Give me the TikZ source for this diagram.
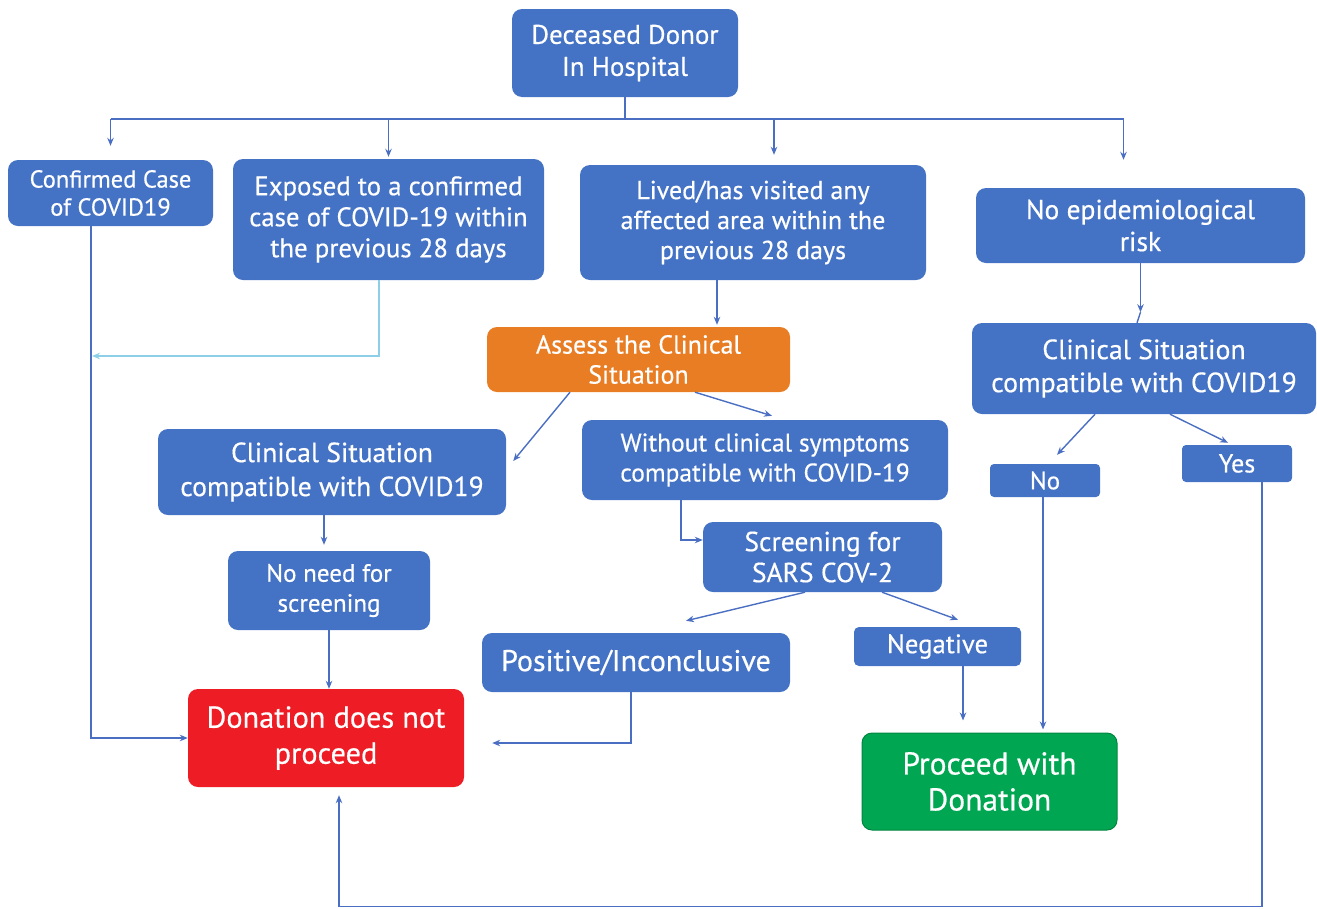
\documentclass[tikz,border=0pt]{standalone}
\usepackage{fontspec}
\setmainfont{PT Sans}[FakeBold=0.5]
\usetikzlibrary{arrows.meta,calc}
\definecolor{bxblue}{HTML}{4472C4}
\definecolor{bxorange}{HTML}{E87D24}
\definecolor{bxred}{HTML}{EE1C25}
\definecolor{bxgreen}{HTML}{00A651}
\definecolor{lnblue}{HTML}{4A6FC2}
\definecolor{lnlight}{HTML}{8ECFE8}
\tikzset{
  box/.style={draw=none, fill=bxblue, text=white, rounded corners=10pt, align=center, inner sep=0pt},
  arr/.style={draw=lnblue, line width=1.4pt, -{Stealth[length=8pt,width=6.5pt]}},
  ln/.style={draw=lnblue, line width=1.4pt},
}
\newcommand{\fs}[2]{\fontsize{#1}{#2}\selectfont}
\begin{document}
\begin{tikzpicture}[x=1pt,y=-1pt]
\useasboundingbox (0,0) rectangle (1317,908);
% nodes
\node[box, minimum width=226, minimum height=88, font=\fs{27}{32}] (dec) at (625,53) {Deceased Donor\\In Hospital};
\node[box, minimum width=205, minimum height=66, font=\fs{24.5}{28}] (conf) at (110.5,193) {Confirmed Case\\of COVID19};
\node[box, minimum width=311, minimum height=121, font=\fs{26.8}{31}] (exp) at (388.5,219.5) {Exposed to a confirmed\\case of COVID-19 within\\the previous 28 days};
\node[box, minimum width=346, minimum height=115, font=\fs{26}{30}] (lived) at (753,222.5) {Lived/has visited any\\affected area within the\\previous 28 days};
\node[box, minimum width=329, minimum height=75, font=\fs{27.5}{32}] (noepi) at (1140.5,225.5) {No epidemiological\\risk};
\node[box, fill=bxorange, minimum width=303, minimum height=65, font=\fs{26}{30}] (assess) at (638.5,359.5) {Assess the Clinical\\Situation};
\node[box, minimum width=344, minimum height=91, font=\fs{27.8}{33}] (rcl) at (1144,368.5) {Clinical Situation\\compatible with COVID19};
\node[box, minimum width=348, minimum height=86, font=\fs{27.6}{34}] (cl) at (332,472) {Clinical Situation\\compatible with COVID19};
\node[box, minimum width=366, minimum height=80, font=\fs{25.5}{30}] (wo) at (765,460) {Without clinical symptoms\\compatible with COVID-19};
\node[box, rounded corners=4pt, minimum width=110, minimum height=33, font=\fs{25}{26}] (no) at (1045,480.5) {No};
\node[box, rounded corners=4pt, minimum width=110, minimum height=37, font=\fs{26}{26}] (yes) at (1237,463.5) {Yes};
\node[box, minimum width=202, minimum height=79, font=\fs{25}{30}] (noneed) at (329,590.5) {No need for\\screening};
\node[box, minimum width=239, minimum height=70, font=\fs{27.5}{31}] (scr) at (822.5,557) {Screening for\\SARS COV-2};
\node[box, minimum width=308, minimum height=59, font=\fs{30}{32}] (pos) at (636,662.5) {Positive/Inconclusive};
\node[box, rounded corners=5pt, minimum width=167, minimum height=39, font=\fs{26.7}{28}] (neg) at (937.5,646.5) {Negative};
\node[box, fill=bxred, minimum width=276, minimum height=98, font=\fs{30.3}{36}] (don) at (326,738) {Donation does not\\proceed};
\node[box, fill=bxgreen, draw=bxgreen!80!black, line width=1pt, minimum width=255, minimum height=97, font=\fs{31.5}{36}] (proc) at (989.5,781.5) {Proceed with\\Donation};
% bus from deceased donor
\coordinate (bus) at (625,119);
\draw[ln] (dec.south) -- (bus);
\draw[ln] (conf.north |- bus) -- ([xshift=-17]noepi.north |- bus);
\draw[arr, shorten >=14pt] (conf.north |- bus) -- (conf.north);
\draw[arr, shorten >=2pt] (exp.north |- bus) -- (exp.north);
\draw[arr, shorten >=10pt] ([xshift=21]lived.north |- bus) -- ([xshift=21]lived.north);
\draw[arr, shorten >=28pt] ([xshift=-17]noepi.north |- bus) -- ([xshift=-17]noepi.north);
% left column
\draw[arr] ([xshift=-19.5]conf.south) |- (don.west);
\coordinate (expend) at (92,356);
\draw[arr, draw=lnlight] ([xshift=-9.5]exp.south) |- (expend);
% middle
\draw[arr, shorten >=2pt] ([xshift=-36]lived.south) -- ([xshift=-36]lived.south |- assess.north);
\draw[arr] ([xshift=-68.5]assess.south) -- ([xshift=7,yshift=11]cl.east);
\draw[arr] ([xshift=56.5]assess.south) -- ([xshift=7,yshift=4]wo.north);
\draw[arr] ([xshift=-84]wo.south) |- ([yshift=17]scr.west);
\draw[arr] ([xshift=-17.5]scr.south) -- ([xshift=50,yshift=12]pos.north);
\draw[arr] ([xshift=59.5]scr.south) -- ([xshift=20.5,yshift=7]neg.north);
\draw[arr, shorten >=12pt] ([xshift=25.5]neg.south) -- ([xshift=25.5]neg.south |- proc.north);
\draw[arr] ([xshift=-5]pos.south) |- ([xshift=28,yshift=-5]don.east);
\draw[arr, shorten >=6pt] ([xshift=-8]cl.south) -- ([xshift=-8]cl.south |- noneed.north);
\draw[arr] (noneed.south) -- (noneed.south |- don.north);
% right column
\path (noepi.south) ++(0,49) coordinate (k);
\draw[arr] (noepi.south) -- (k);
\draw[ln] (k) -- ([xshift=-7]rcl.north);
\draw[arr] ([xshift=-49]rcl.south) -- ([xshift=12,yshift=9]no.north);
\draw[arr] ([xshift=26]rcl.south) -- ([xshift=-9,yshift=2]yes.north);
\draw[arr, shorten >=3pt] ([xshift=-2]no.south) -- ([xshift=-2]no.south |- proc.north);
\draw[arr] ([xshift=25]yes.south) -- ++(0,424) -| ([xshift=13,yshift=-8]don.south);
\end{tikzpicture}
\end{document}
